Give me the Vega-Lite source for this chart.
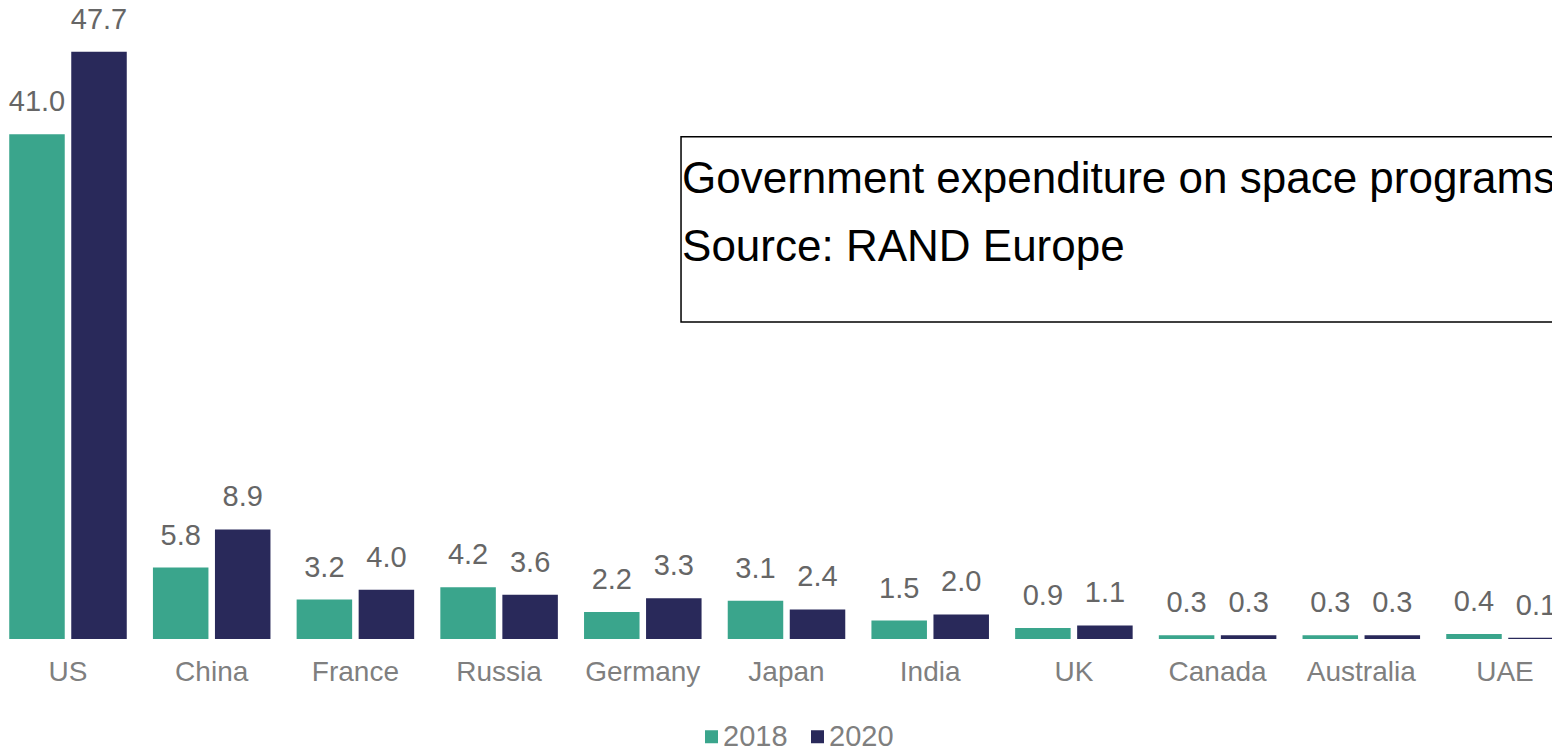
{
  "$schema": "https://vega.github.io/schema/vega-lite/v6.json",
  "width": 1552,
  "height": 639,
  "autosize": {"type": "none"},
  "padding": {"left": 0, "top": 0, "right": 0, "bottom": 107},
  "background": "white",
  "config": {"view": {"stroke": null}, "font": "Liberation Sans"},
  "datasets": {
    "spend": [
      {"country": "US", "year": "2018", "value": 41.0},
      {"country": "US", "year": "2020", "value": 47.7},
      {"country": "China", "year": "2018", "value": 5.8},
      {"country": "China", "year": "2020", "value": 8.9},
      {"country": "France", "year": "2018", "value": 3.2},
      {"country": "France", "year": "2020", "value": 4.0},
      {"country": "Russia", "year": "2018", "value": 4.2},
      {"country": "Russia", "year": "2020", "value": 3.6},
      {"country": "Germany", "year": "2018", "value": 2.2},
      {"country": "Germany", "year": "2020", "value": 3.3},
      {"country": "Japan", "year": "2018", "value": 3.1},
      {"country": "Japan", "year": "2020", "value": 2.4},
      {"country": "India", "year": "2018", "value": 1.5},
      {"country": "India", "year": "2020", "value": 2.0},
      {"country": "UK", "year": "2018", "value": 0.9},
      {"country": "UK", "year": "2020", "value": 1.1},
      {"country": "Canada", "year": "2018", "value": 0.3},
      {"country": "Canada", "year": "2020", "value": 0.3},
      {"country": "Australia", "year": "2018", "value": 0.3},
      {"country": "Australia", "year": "2020", "value": 0.3},
      {"country": "UAE", "year": "2018", "value": 0.4},
      {"country": "UAE", "year": "2020", "value": 0.1}
    ],
    "box": [{"x1": 4.766, "x2": 11, "y1": 40.8, "y2": 25.75}],
    "note": [
      {"x": 4.773, "y": 36.22, "label": "Government expenditure on space programs"},
      {"x": 4.773, "y": 30.7, "label": "Source: RAND Europe"}
    ]
  },
  "layer": [
    {
      "data": {"name": "spend"},
      "encoding": {
        "x": {
          "field": "country",
          "type": "nominal",
          "sort": null,
          "scale": {"range": [-3.85, 1576.85], "paddingInner": 0, "paddingOuter": 0},
          "axis": {
            "title": null,
            "domain": false,
            "ticks": false,
            "grid": false,
            "labelAngle": 0,
            "labelFontSize": 28,
            "labelColor": "#7f7f7f",
            "labelPadding": 19,
            "labelFont": "Liberation Sans"
          }
        },
        "xOffset": {
          "field": "year",
          "type": "nominal",
          "scale": {"paddingInner": 0.105, "paddingOuter": 0.211}
        },
        "y": {
          "field": "value",
          "type": "quantitative",
          "scale": {"domain": [0, 51.9], "nice": false},
          "axis": null
        }
      },
      "layer": [
        {
          "mark": {"type": "bar"},
          "encoding": {
            "color": {
              "field": "year",
              "type": "nominal",
              "scale": {"domain": ["2018", "2020"], "range": ["#3aa58c", "#29295a"]},
              "legend": {
                "orient": "none",
                "legendX": 697,
                "legendY": 722,
                "direction": "horizontal",
                "title": null,
                "symbolType": "square",
                "symbolSize": 169,
                "symbolStrokeWidth": 0,
                "labelFontSize": 29,
                "labelFont": "Liberation Sans",
                "labelColor": "#7f7f7f",
                "columnPadding": 15,
                "labelOffset": -3,
                "padding": 0
              }
            }
          }
        },
        {
          "mark": {"type": "text", "baseline": "alphabetic", "dy": -23, "fontSize": 29, "color": "#666666", "font": "Liberation Sans"},
          "encoding": {"text": {"field": "value", "type": "quantitative", "format": ".1f"}}
        }
      ]
    },
    {
      "layer": [
        {
          "data": {"name": "box"},
          "mark": {"type": "rect", "filled": false, "stroke": "black", "strokeWidth": 1.5},
          "encoding": {
            "x": {"field": "x1", "type": "quantitative", "scale": {"domain": [0, 11], "range": [-3.85, 1576.85], "nice": false, "zero": false}, "axis": null},
            "x2": {"field": "x2"},
            "y": {"field": "y1", "type": "quantitative", "scale": {"domain": [0, 51.9], "nice": false}, "axis": null},
            "y2": {"field": "y2"}
          }
        },
        {
          "data": {"name": "note"},
          "mark": {"type": "text", "align": "left", "baseline": "alphabetic", "fontSize": 44, "font": "Liberation Sans", "color": "black"},
          "encoding": {
            "x": {"field": "x", "type": "quantitative", "scale": {"domain": [0, 11], "range": [-3.85, 1576.85], "nice": false, "zero": false}, "axis": null},
            "y": {"field": "y", "type": "quantitative", "scale": {"domain": [0, 51.9], "nice": false}, "axis": null},
            "text": {"field": "label"}
          }
        }
      ]
    }
  ],
  "resolve": {"scale": {"x": "independent"}}
}
